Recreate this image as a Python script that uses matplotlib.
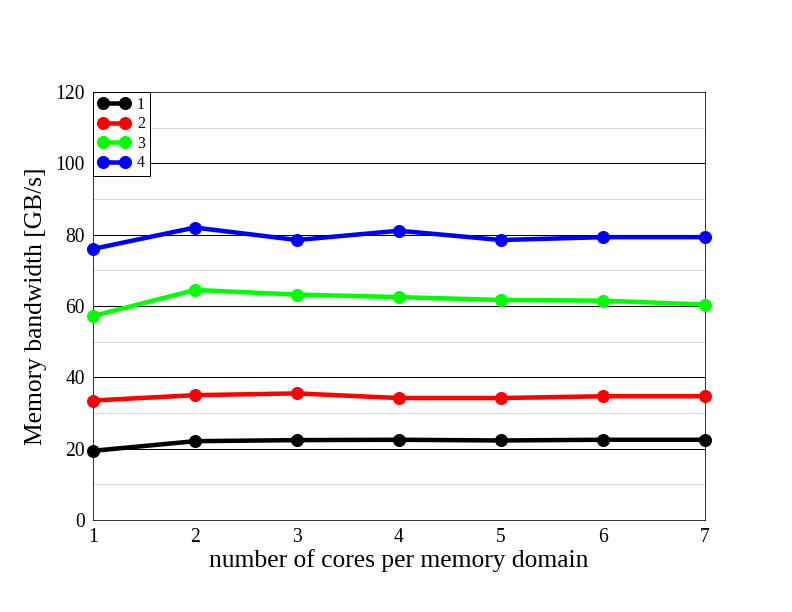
import matplotlib
matplotlib.use("Agg")
import matplotlib.pyplot as plt
import numpy as np

cores = [1, 2, 3, 4, 5, 6, 7]
s1 = [19.4, 22.1, 22.4, 22.5, 22.3, 22.5, 22.5]
s2 = [33.5, 35.0, 35.5, 34.2, 34.2, 34.7, 34.7]
s3 = [57.2, 64.5, 63.2, 62.5, 61.7, 61.5, 60.4]
s4 = [76.0, 82.0, 78.5, 81.1, 78.5, 79.3, 79.3]
labels = ["1", "2", "3", "4"]
colors = ["#000000", "#ff0000", "#00ff00", "#0000ff"]

plt.rcParams['font.family'] = ['Liberation Serif', 'DejaVu Serif']

fig = plt.figure(figsize=(11, 8.5), dpi=72)
ax = fig.add_axes([0.1174, 0.1503, 0.890 - 0.1174, 0.8497 - 0.1503])

for ys in [10, 30, 50, 70, 90, 110]:
    ax.axhline(ys, color='#d9d9d9', lw=1, zorder=0)
for ys in [20, 40, 60, 80, 100]:
    ax.axhline(ys, color='black', lw=1, zorder=0)

for s, lab, c in zip([s1, s2, s3, s4], labels, colors):
    ax.plot(cores, s, color=c, lw=4.5, marker='o', ms=12, label=lab, clip_on=False, zorder=3)

ax.set_xlim(1, 7)
ax.set_ylim(0, 120)
ax.set_xticks(cores)
ax.set_yticks(np.arange(0, 121, 20))
ax.tick_params(labelsize=19.5, direction='in', length=0, pad=8)
ax.set_xlabel("number of cores per memory domain", fontsize=25.5, labelpad=2)
ax.set_ylabel("Memory bandwidth [GB/s]", fontsize=25.5, labelpad=8)

leg = ax.legend(loc='upper left', fontsize=16, frameon=True, fancybox=False,
                borderaxespad=0, handlelength=2.0, borderpad=0.3, labelspacing=0.22,
                handletextpad=0.45, numpoints=2, markerscale=1.0)
leg.get_frame().set_edgecolor('black')
leg.get_frame().set_linewidth(1)
leg.get_frame().set_alpha(1)

fig.savefig("out.png", dpi=72)
